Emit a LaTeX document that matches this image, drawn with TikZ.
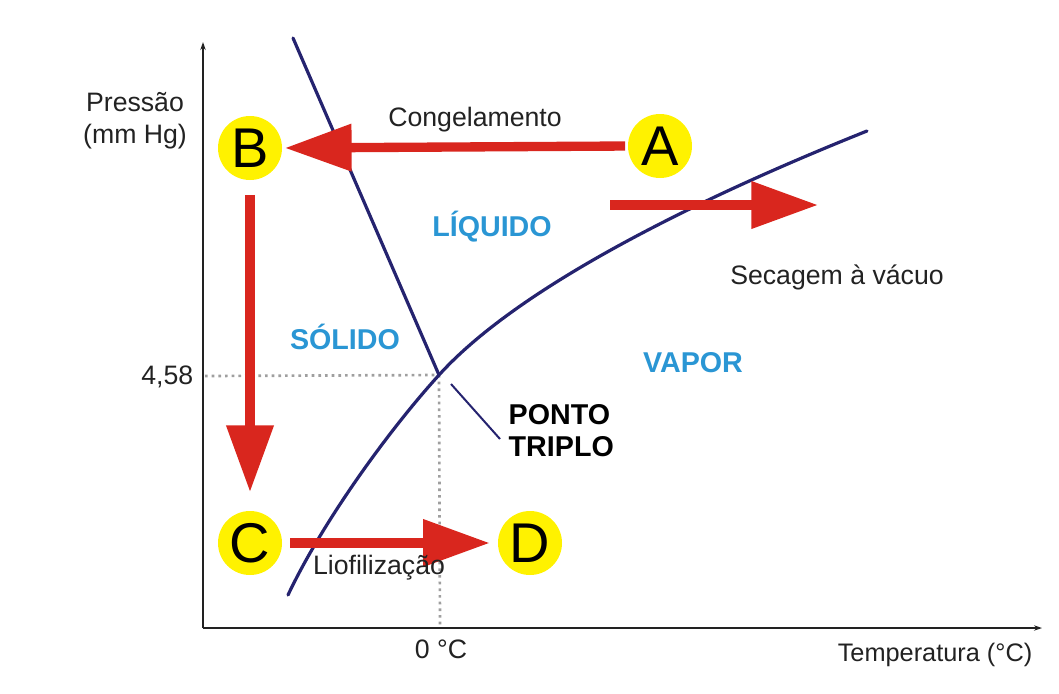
\documentclass[tikz,border=0pt]{standalone}
\usepackage{fontspec}
\setmainfont{Liberation Sans}
\usetikzlibrary{arrows.meta}
\definecolor{navy}{HTML}{25236F}
\definecolor{redarr}{HTML}{D9261E}
\definecolor{yel}{HTML}{FFF200}
\definecolor{phase}{HTML}{2A96D4}
\definecolor{txt}{HTML}{222222}
\tikzset{
  axis/.style={line width=2.2pt, draw=txt, -{Stealth[length=6pt,width=4pt]}},
  phasecurve/.style={line width=2.4pt, draw=navy, line cap=round},
  guide/.style={line width=2pt, draw=gray!75, dash pattern=on 2pt off 3pt},
  stepcircle/.style={circle, fill=yel, minimum size=48pt, inner sep=0pt, font=\fontsize{42}{42}\selectfont, text=black},
  bigarrow/.style={line width=7pt, draw=redarr, -{Triangle[length=50pt,width=34pt]}},
  label/.style={font=\fontsize{20}{24}\selectfont, text=txt},
  phaselabel/.style={font=\fontsize{21.5}{24}\selectfont\bfseries, text=phase},
}
\begin{document}
\begin{tikzpicture}[x=0.75pt,y=-0.75pt]
\useasboundingbox (0,0) rectangle (1059,693);
% axes
\coordinate (O) at (203,628);
\coordinate (Ytop) at (203,42);
\coordinate (Xend) at (1042,628);
\draw[axis] (O) -- (Ytop);
\draw[axis] (O) -- (Xend);
% triple point and guides
\coordinate (TP) at (439,375);
\coordinate (TPy) at (205,376);
\coordinate (TPx) at (440,626);
\draw[guide] (TPy) -- (TP);
\draw[guide] (TP) -- (TPx);
% curves
\coordinate (SLtop) at (293,38);
\coordinate (VPlow) at (288,595);
\coordinate (VPhigh) at (867,131);
\draw[phasecurve] (SLtop) -- (TP);
\draw[phasecurve] (VPlow) .. controls (323,521) and (389,430) .. (TP)
  .. controls (524,281) and (717,191) .. (VPhigh);
\coordinate (P1) at (451,384);
\coordinate (P2) at (500,439);
\draw[line width=1.5pt, draw=navy] (P1) -- (P2);
% circles
\node[stepcircle] (A) at (660,146) {A};
\node[stepcircle] (B) at (250,148) {B};
\node[stepcircle] (C) at (250,543) {C};
\node[stepcircle] (D) at (530,543) {D};
% arrows
\draw[bigarrow, shorten <=2pt, shorten >=2pt] (A.west) -- (B.east);
\draw[bigarrow, shorten <=11pt, shorten >=14pt] (B.south) -- (C.north);
\draw[bigarrow, shorten <=6pt, shorten >=6pt] (C.east) -- (D.west);
\coordinate (S1) at (610,205);
\coordinate (S2) at (818,205);
\draw[bigarrow] (S1) -- (S2);
% texts
\node[label] (cong) at (475,120) {Congelamento};
\node[label] (sec) at (837,277) {Secagem à vácuo};
\node[label] (lio) at (379,568) {Liofilização};
\node[label, anchor=east] (v458) at (198,377) {4,58};
\node[label] (zero) at (441,649) {0 °C};
\node[label, anchor=east, font=\fontsize{19}{24}\selectfont] (temp) at (1037,655) {Temperatura (°C)};
\node[label, align=center] (pres) at (135,121) {Pressão\\(mm Hg)};
\node[phaselabel] (liq) at (492,227) {LÍQUIDO};
\node[phaselabel] (sol) at (345,337) {SÓLIDO};
\node[phaselabel] (vap) at (693,363) {VAPOR};
\node[phaselabel, text=black, anchor=west, align=left] (pt) at (504,431) {PONTO\\TRIPLO};
\end{tikzpicture}
\end{document}
